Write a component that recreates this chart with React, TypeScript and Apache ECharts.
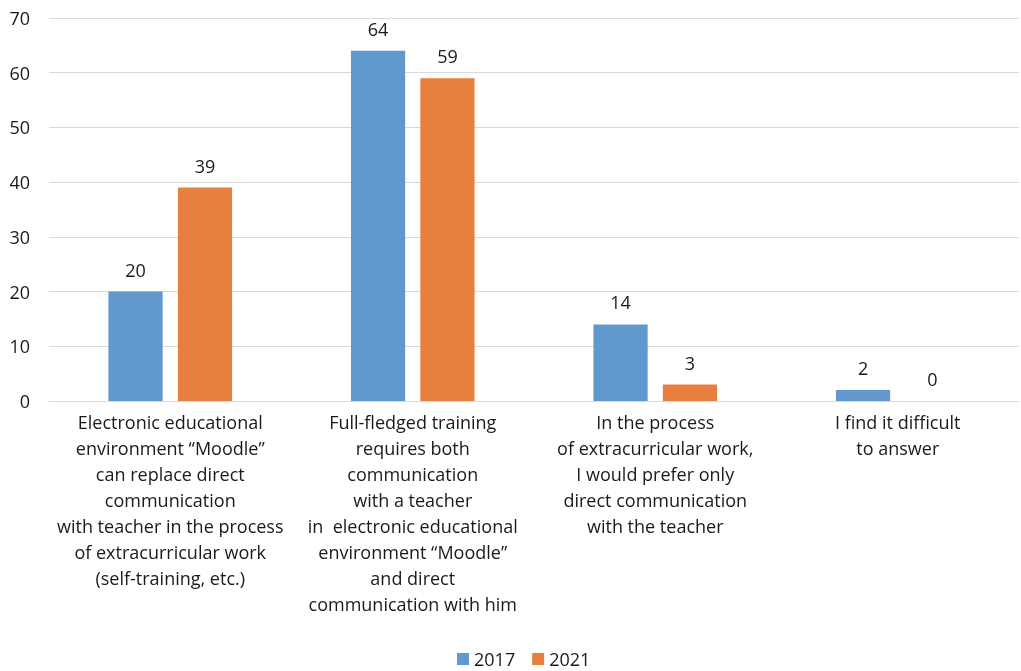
import React, { useEffect, useRef } from "react";
import * as echarts from "echarts";

const categories = [
  "Electronic educational\nenvironment “Moodle”\ncan replace direct\ncommunication\nwith teacher in the process\nof extracurricular work\n(self-training, etc.)",
  "Full-fledged training\nrequires both\ncommunication\nwith a teacher\nin  electronic educational\nenvironment “Moodle”\nand direct\ncommunication with him",
  "In the process\nof extracurricular work,\nI would prefer only\ndirect communication\nwith the teacher",
  "I find it difficult\nto answer",
];
const values2017 = [20, 64, 14, 2];
const values2021 = [39, 59, 3, 0];
const seriesNames = ["2017", "2021"];

const FONT = "'Open Sans', 'Noto Sans', sans-serif";
const TEXT = "#1a1a1a";

export default function App() {
  const ref = useRef<HTMLDivElement>(null);
  useEffect(() => {
    if (!ref.current) return;
    const chart = echarts.init(ref.current, null, { renderer: "svg" });
    const label = {
      show: true,
      position: "top" as const,
      distance: 13,
      color: TEXT,
      fontSize: 18,
      fontFamily: FONT,
    };
    chart.setOption({
      animation: false,
      textStyle: { fontFamily: FONT },
      grid: { left: 49, right: 2, top: 18, bottom: 270 },
      legend: {
        top: 648,
        left: 455,
        padding: [2, 2, 2, 2],
        itemWidth: 12,
        itemHeight: 12,
        itemGap: 17,
        icon: "rect",
        textStyle: { fontSize: 18, color: TEXT, fontFamily: FONT },
        data: seriesNames,
      },
      xAxis: {
        type: "category",
        data: categories,
        axisLine: { show: true, lineStyle: { color: "#d9d9d9" } },
        axisTick: { show: false },
        axisLabel: {
          interval: 0,
          color: TEXT,
          fontSize: 18,
          lineHeight: 26,
          margin: 8,
          fontFamily: FONT,
        },
      },
      yAxis: {
        type: "value",
        min: 0,
        max: 70,
        interval: 10,
        axisLine: { show: false },
        axisTick: { show: false },
        splitLine: { lineStyle: { color: "#d9d9d9" } },
        axisLabel: { color: TEXT, fontSize: 18, margin: 19, fontFamily: FONT },
      },
      series: [
        {
          name: seriesNames[0],
          type: "bar",
          data: values2017,
          itemStyle: { color: "#6198cd" },
          barGap: "28%",
          barCategoryGap: "49%",
          label,
        },
        {
          name: seriesNames[1],
          type: "bar",
          data: values2021,
          itemStyle: { color: "#e7803e" },
          label,
        },
      ],
    });
    return () => chart.dispose();
  }, []);
  return (
    <div
      ref={ref}
      style={{ position: "fixed", left: 0, top: 0, width: 1021, height: 671 }}
    />
  );
}
